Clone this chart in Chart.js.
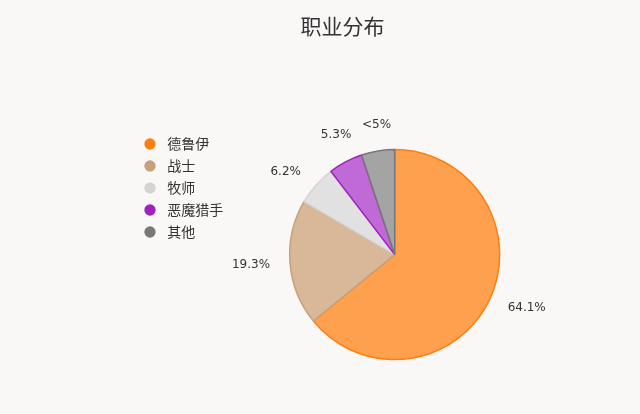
<!DOCTYPE html>
<html>
<head>
<meta charset="utf-8">
<script src="https://cdn.jsdelivr.net/npm/chart.js@4.4.4/dist/chart.umd.min.js"></script>
<style>
    html, body { margin: 0; padding: 0; background: #faf8f7; }
    #wrap { width: 640px; height: 414px; }
</style>
</head>
<body>
<div id="wrap"><canvas id="pie"></canvas></div>
<script>
const classes = ['德鲁伊', '战士', '牧师', '恶魔猎手', '其他'];
const shares = [64.1, 19.3, 6.2, 5.3, 5.1];
const shareLabels = ['64.1%', '19.3%', '6.2%', '5.3%', '<5%'];
const fills = ['rgba(255,160,78,1)', 'rgba(216,184,152,1)', 'rgba(225,225,225,1)', 'rgba(192,106,216,1)', 'rgba(164,164,164,1)'];
const borders = ['#ff7f0e', '#c8a07a', '#d4d4d4', '#a020c0', '#787878'];

// percentage labels just outside each slice
const outsideLabels = {
    id: 'outsideLabels',
    afterDatasetsDraw(chart) {
        const ctx = chart.ctx;
        const meta = chart.getDatasetMeta(0);
        ctx.save();
        ctx.font = '12px "DejaVu Sans"';
        ctx.fillStyle = '#333';
        ctx.textBaseline = 'middle';
        meta.data.forEach((arc, i) => {
            const mid = (arc.startAngle + arc.endAngle) / 2;
            const c = Math.cos(mid), s = Math.sin(mid);
            if (Math.abs(c) < 0.6) {
                const d = arc.outerRadius + 25 + Math.abs(c) * 12;
                ctx.textAlign = 'center';
                ctx.fillText(shareLabels[i], arc.x + c * d + 2 + Math.abs(c) * 6, arc.y + s * d);
            } else {
                const d = arc.outerRadius + 20;
                ctx.textAlign = c > 0 ? 'left' : 'right';
                ctx.fillText(shareLabels[i], arc.x + c * d, arc.y + s * d);
            }
        });
        ctx.restore();
    }
};

const bg = {
    id: 'bg',
    beforeDraw(chart) {
        const ctx = chart.ctx;
        ctx.save();
        ctx.fillStyle = '#faf8f7';
        ctx.fillRect(0, 0, chart.width, chart.height);
        ctx.restore();
    }
};

new Chart(document.getElementById('pie'), {
    type: 'pie',
    data: {
        labels: classes,
        datasets: [{
            data: shares,
            backgroundColor: fills,
            borderColor: borders,
            borderWidth: 1.5,
            radius: 105
        }]
    },
    options: {
        responsive: true,
        maintainAspectRatio: false,
        animation: false,
        layout: { padding: { left: 135, right: 90, top: 7, bottom: 30 } },
        plugins: {
            title: {
                display: true,
                text: '职业分布',
                color: '#333',
                font: { family: '"Noto Sans CJK SC"', size: 21, weight: 'normal' },
                padding: { top: 6, bottom: 87 }
            },
            legend: {
                position: 'left',
                align: 'start',
                title: {
                    display: true,
                    text: ' ',
                    font: { size: 10 },
                    padding: { top: 0, bottom: 110 }
                },
                labels: {
                    usePointStyle: true,
                    pointStyle: 'circle',
                    boxHeight: 8,
                    padding: 8,
                    color: '#333',
                    font: { family: '"Noto Sans CJK SC"', size: 14 },
                    generateLabels(chart) {
                        return classes.map((name, i) => ({
                            text: ' ' + name + '  ',
                            fillStyle: borders[i],
                            strokeStyle: borders[i],
                            lineWidth: 0,
                            pointStyle: 'circle',
                            fontColor: '#333',
                            index: i
                        }));
                    }
                }
            },
            tooltip: { enabled: false }
        }
    },
    plugins: [bg, outsideLabels]
});
</script>
</body>
</html>
